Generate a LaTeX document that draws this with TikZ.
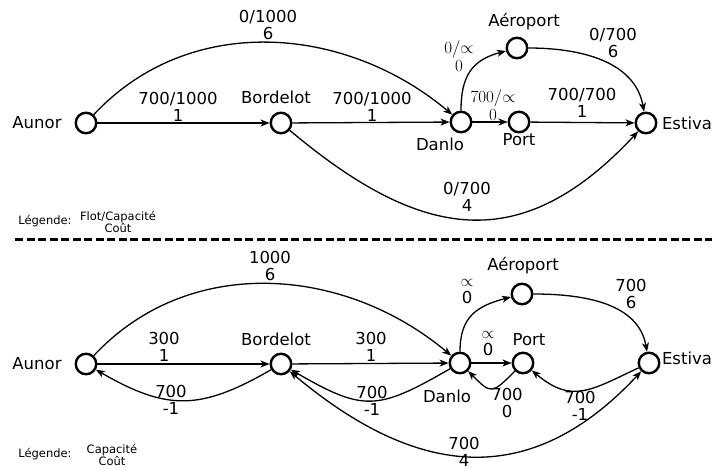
\RequirePackage{fix-cm}
\documentclass[tikz,border=0pt]{standalone}
\usepackage[no-math]{fontspec}
\setmainfont{DejaVu Sans}
\usetikzlibrary{arrows.meta}
\begin{document}
\begin{tikzpicture}[x=1pt,y=1pt,
  vtx/.style={circle,draw,line width=2.4pt,minimum size=20.5pt,inner sep=0pt},
  nm/.style={font=\fontsize{16.5}{17}\selectfont,inner sep=0pt},
  lbl/.style={font=\fontsize{16.5}{17}\selectfont,align=center,inner sep=0pt},
  mlbl/.style={font=\fontsize{17}{18}\selectfont,align=center,inner sep=0pt},
  leg/.style={font=\fontsize{11.5}{12}\selectfont,align=center,inner sep=0pt},
  tip/.tip={Stealth[length=9pt,width=7pt,inset=2.5pt]},
  edge/.style={line width=1.3pt,-tip},
  bedge/.style={line width=1.3pt,tip-tip}]
\useasboundingbox (0,0) rectangle (712,-470);

% ---------- top network ----------
\node[vtx] (A) at (86,-123) {};
\node[vtx] (B) at (281,-123) {};
\node[vtx] (D) at (461,-122) {};
\node[vtx] (P) at (519,-122) {};
\node[vtx] (R) at (517,-48) {};
\node[vtx] (E) at (646,-123) {};

\node[nm] (nA) at (37,-123) {Aunor};
\node[nm] (nB) at (276,-97) {Bordelot};
\node[nm] (nD) at (440,-144) {Danlo};
\node[nm] (nP) at (519,-140) {Port};
\node[nm] (nR) at (524,-22) {Aéroport};
\node[nm] (nE) at (687,-123) {Estiva};

\draw[edge] (A) -- (B);
\draw[edge] (B) -- (D);
\draw[edge] (D) -- (P);
\draw[edge] (P) -- (E);
\draw[edge] (A) to[out=47,in=140] (D);
\draw[edge] (B) to[out=-40,in=-133,looseness=1.26] (E);
\draw[edge] (D) to[out=90,in=195,looseness=1.2] (R);
\draw[edge] (R) to[out=0,in=100] (E);

\node[lbl] (t1) at (268,-24.5) {0/1000\\6};
\node[lbl] (t2) at (178,-106.5) {700/1000\\1};
\node[lbl] (t3) at (372,-106.5) {700/1000\\1};
\node[lbl] (t4) at (467,-196.5) {0/700\\4};
\node[mlbl] (t5) at (459,-56.5) {$0/{\propto}$\\$0$};
\node[mlbl] (t6) at (493,-105) {$700/{\propto}$\\$0$};
\node[lbl] (t7) at (613,-43) {0/700\\6};
\node[lbl] (t8) at (582,-102.5) {700/700\\1};

\node[leg] (lg1) at (45,-221) {Légende:};
\node[leg] (lg2) at (118,-222) {Flot/Capacité\\Coût};

% ---------- separator ----------
\draw[line width=3pt,dash pattern=on 8pt off 3.5pt] (15,-240) -- (712,-240);

% ---------- bottom network ----------
\node[vtx] (A2) at (86,-364) {};
\node[vtx] (B2) at (281,-364) {};
\node[vtx] (D2) at (460,-363) {};
\node[vtx] (P2) at (523,-363) {};
\node[vtx] (R2) at (522,-294) {};
\node[vtx] (E2) at (649,-363) {};

\node[nm] (nA2) at (37,-364) {Aunor};
\node[nm] (nB2) at (276,-339) {Bordelot};
\node[nm] (nD2) at (447,-396) {Danlo};
\node[nm] (nP2) at (529,-340) {Port};
\node[nm] (nR2) at (523,-266) {Aéroport};
\node[nm] (nE2) at (687,-358) {Estiva};

\draw[edge] (A2) -- (B2);
\draw[edge] (B2) -- (D2);
\draw[edge] (D2) -- (P2);
\draw[edge] (A2) to[out=47,in=140] (D2);
\draw[edge] (B2) to[out=-150,in=-30,looseness=1.2] (A2);
\draw[edge] (D2) to[out=-150,in=-30,looseness=1.35] (B2);
\draw[bedge] (B2) to[out=-40,in=-133,looseness=1.2] (E2);
\draw[edge] (D2) to[out=90,in=195,looseness=1.2] (R2);
\draw[edge] (R2) to[out=0,in=100] (E2);
\draw[edge] (P2) to[out=-135,in=-45,looseness=1.8] (D2);
\draw[edge] (E2) to[out=-155,in=-40,looseness=1.26] (P2);

\node[lbl] (b1) at (270,-265.5) {1000\\6};
\node[lbl] (b2) at (164,-346.5) {300\\1};
\node[lbl] (b3) at (171,-399.5) {700\\-1};
\node[lbl] (b4) at (371,-346.5) {300\\1};
\node[lbl] (b5) at (372,-400.5) {700\\-1};
\node[lbl] (b6) at (467,-292) {$\propto$\\0};
\node[lbl] (b7) at (488,-343.5) {$\propto$\\0};
\node[lbl] (b8) at (507,-403) {700\\0};
\node[lbl] (b9) at (631,-293.5) {700\\6};
\node[lbl] (b10) at (580,-405.5) {700\\-1};
\node[lbl] (b11) at (464,-451.5) {700\\4};

\node[leg] (lg3) at (45,-454) {Légende:};
\node[leg] (lg4) at (112,-455) {Capacité\\Coût};
\end{tikzpicture}
\end{document}
